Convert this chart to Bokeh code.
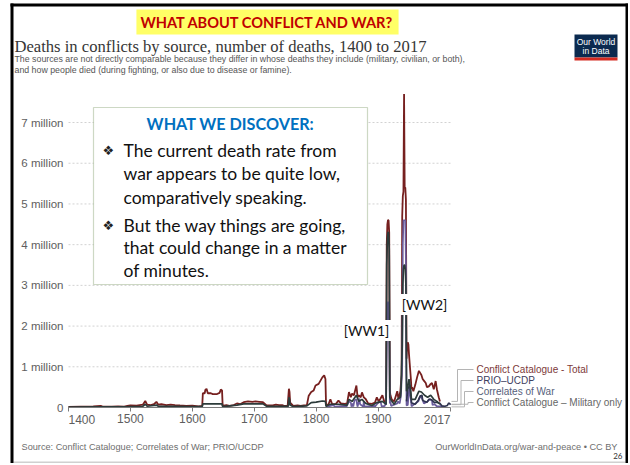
from bokeh.plotting import figure
from bokeh.models import Range1d, Label, BoxAnnotation, Arrow, FixedTicker
from bokeh.embed import file_html
from bokeh.resources import INLINE

# ---------------- data (deaths in thousands) ----------------
series_names = ["Conflict Catalogue - Total", "PRIO\u2013UCDP",
                "Correlates of War", "Conflict Catalogue \u2013 Military only"]

total_years = [1400, 1420, 1440, 1452, 1455, 1470, 1480, 1490, 1495, 1500, 1510, 1515, 1520, 1524, 1527,
               1533, 1538, 1542, 1545, 1550, 1558, 1565, 1572, 1580, 1590, 1600, 1610, 1616,
               1617, 1620, 1621, 1623, 1625, 1630, 1633, 1640, 1644, 1646, 1648, 1649,
               1655, 1660, 1667, 1672, 1677, 1683, 1690, 1697, 1702, 1708, 1714, 1720, 1730, 1735,
               1740, 1745, 1748, 1754, 1756, 1757, 1758, 1763, 1770, 1775, 1780, 1785,
               1788, 1792, 1796, 1799, 1804, 1807, 1810, 1813, 1815, 1816,
               1820, 1823, 1826, 1832, 1836, 1840, 1846, 1850, 1853, 1856, 1858, 1861, 1865, 1867,
               1869, 1872, 1874, 1877, 1880, 1884, 1890, 1895, 1898, 1901, 1904, 1907, 1910, 1913,
               1914, 1915, 1916, 1917, 1918, 1919, 1920, 1922, 1926, 1931, 1933, 1936, 1937, 1938,
               1939, 1940, 1941, 1942, 1943, 1944, 1945,
               1946, 1947, 1948, 1949, 1950, 1951, 1952, 1953, 1954, 1955, 1957, 1960, 1963, 1966,
               1968, 1970, 1972, 1974, 1977, 1979, 1982, 1985, 1987, 1990, 1993, 1995, 1998, 2000]
total_vals = [15, 20, 25, 40, 20, 20, 25, 20, 40, 50, 45, 60, 70, 160, 70,
              60, 80, 140, 70, 80, 60, 70, 60, 50, 40, 45, 30, 40,
              350, 350, 430, 460, 350, 350, 330, 330, 360, 440, 420, 40,
              60, 40, 60, 100, 80, 130, 150, 140, 150, 140, 130, 50, 50, 70,
              60, 60, 40, 40, 460, 380, 120, 40, 50, 40, 50, 60,
              290, 380, 420, 540, 580, 660, 740, 790, 700, 60,
              80, 200, 80, 90, 170, 100, 90, 100, 380, 250, 340, 300, 540, 250,
              300, 250, 370, 250, 210, 100, 90, 120, 250, 150, 220, 300, 150, 150,
              4000, 4500, 4600, 4600, 4300, 400, 300, 200, 150, 400, 200, 400, 600, 800,
              4700, 5200, 5300, 7700, 5400, 5400, 5100,
              1200, 1500, 1600, 1550, 1300, 1100, 900, 700, 450, 500, 400, 550, 740, 900,
              850, 800, 700, 660, 600, 500, 520, 580, 600, 450, 650, 450, 250, 150]

mil_years = [1400, 1450, 1495, 1520, 1524, 1527, 1542, 1545, 1570, 1600, 1616,
             1617, 1648, 1649, 1672, 1683, 1714, 1720, 1755, 1756, 1757, 1758, 1763, 1785,
             1792, 1800, 1810, 1815, 1816, 1823, 1836, 1850, 1853, 1858, 1865, 1869, 1874,
             1880, 1890, 1898, 1907, 1913,
             1914, 1915, 1916, 1917, 1918, 1919, 1920, 1926, 1931, 1936, 1937, 1939, 1940,
             1941, 1942, 1943, 1944, 1945,
             1946, 1948, 1950, 1952, 1954, 1960, 1966, 1970, 1975, 1980, 1985, 1990, 1995, 2000]
mil_vals = [10, 15, 20, 30, 80, 30, 60, 30, 30, 20, 20,
            90, 90, 20, 60, 90, 90, 30, 30, 250, 200, 60, 20, 40,
            120, 130, 160, 150, 30, 80, 80, 60, 200, 150, 300, 150, 200,
            100, 50, 120, 150, 80,
            3500, 4100, 4300, 4300, 3900, 250, 200, 80, 200, 250, 400, 1500, 3000,
            3400, 3500, 3500, 3400, 3000,
            400, 500, 700, 500, 200, 200, 400, 380, 300, 250, 300, 200, 150, 80]

cow_years = [1816, 1823, 1828, 1830, 1848, 1849, 1853, 1856, 1857, 1859, 1860, 1862, 1865, 1866,
             1867, 1870, 1871, 1876, 1877, 1878, 1894, 1895, 1899, 1904, 1906, 1911, 1912, 1913,
             1914, 1915, 1916, 1917, 1918, 1919, 1920, 1921, 1931, 1932, 1935, 1937, 1939, 1940,
             1941, 1942, 1943, 1944, 1945,
             1946, 1948, 1950, 1951, 1952, 1953, 1954, 1965, 1968, 1971, 1974, 1980, 1983, 1987,
             1988, 1991, 1995, 2000, 2003, 2007]
cow_vals = [10, 40, 60, 20, 40, 20, 150, 120, 20, 100, 20, 180, 200, 80,
            20, 220, 80, 20, 150, 20, 40, 20, 100, 150, 20, 40, 100, 60,
            1500, 2300, 2600, 2500, 1800, 100, 150, 40, 100, 150, 100, 300, 1000, 4000,
            4600, 4600, 4600, 4600, 3500,
            50, 60, 400, 500, 300, 200, 30, 150, 280, 220, 100, 150, 200, 180,
            60, 80, 30, 30, 20, 15]

prio_years = [1946, 1947, 1948, 1949, 1950, 1951, 1952, 1953, 1954, 1956, 1960, 1965, 1968, 1971,
              1972, 1975, 1979, 1982, 1985, 1988, 1991, 1994, 1998, 2000, 2003, 2008, 2012, 2014,
              2016, 2017]
prio_vals = [150, 300, 450, 500, 500, 550, 450, 300, 120, 100, 80, 180, 280, 300,
             180, 150, 130, 200, 200, 170, 120, 130, 110, 100, 40, 30, 50, 110,
             90, 70]

x_ticks = [1400, 1500, 1600, 1700, 1800, 1900, 2017]
y_ticks = [0, 1000000, 2000000, 3000000, 4000000, 5000000, 6000000, 7000000]
y_tick_labels = ["0", "1 million", "2 million", "3 million", "4 million",
                 "5 million", "6 million", "7 million"]

# ---------------- layout (pixel <-> data helpers for decorations) ----------------
W, H = 628, 463
XMIN, XMAX = x_ticks[0], x_ticks[-1]
PX_L, PX_R = 68.0, 450.0      # pixel column of XMIN / XMAX
PX_ZERO, PX_PER_M = 407.0, 40.71


def xd(px):
    return XMIN + (px - PX_L) * (XMAX - XMIN) / (PX_R - PX_L)


def yd(py):
    return (PX_ZERO - py) * 1e6 / PX_PER_M


p = figure(width=W, height=H, min_border=0,
           x_range=Range1d(xd(0), xd(W)), y_range=Range1d(yd(H), yd(0)),
           output_backend="svg", toolbar_location=None)
p.outline_line_color = None
p.background_fill_color = "white"
p.border_fill_color = "white"
p.xgrid.visible = False
p.ygrid.visible = False

ax = p.xaxis[0]
ax.fixed_location = 0
ax.bounds = (XMIN, XMAX)
ax.ticker = FixedTicker(ticks=x_ticks)
ax.major_label_overrides = {t: ("" if t in (XMIN, XMAX) else str(t)) for t in x_ticks}
ax.axis_line_color = "#7a7a7a"
ax.major_tick_line_color = "#7a7a7a"
ax.major_tick_out = 4
ax.major_tick_in = 0
ax.minor_tick_line_color = None
ax.major_label_standoff = 2
ax.major_label_text_font = "Liberation Sans"
ax.major_label_text_font_size = "12px"
ax.major_label_text_color = "#5e5e5e"

ay = p.yaxis[0]
ay.fixed_location = XMIN
ay.ticker = FixedTicker(ticks=y_ticks)
ay.major_label_overrides = dict(zip(y_ticks, y_tick_labels))
ay.axis_line_color = None
ay.major_tick_line_color = None
ay.minor_tick_line_color = None
ay.major_tick_out = 0
ay.major_tick_in = 0
ay.major_label_standoff = 5
ay.major_label_text_font = "Liberation Sans"
ay.major_label_text_font_size = "11.5px"
ay.major_label_text_color = "#5e5e5e"

# dotted gridlines limited to the chart's time span
p.segment(x0=[XMIN] * (len(y_ticks) - 1), y0=y_ticks[1:], x1=[XMAX] * (len(y_ticks) - 1), y1=y_ticks[1:],
          line_color="#d2d2d2", line_dash="2 2", line_width=1)

colors = {"total": "#76201f", "prio": "#303450", "cow": "#6a5c9c", "mil": "#2c3b3a"}
k = 1000
p.line(total_years, [v * k for v in total_vals], line_color=colors["total"], line_width=1.8)
p.line(cow_years, [v * k for v in cow_vals], line_color=colors["cow"], line_width=1.7)
p.line(prio_years, [v * k for v in prio_vals], line_color=colors["prio"], line_width=1.7)
p.line(mil_years, [v * k for v in mil_vals], line_color=colors["mil"], line_width=1.7)

LBL = dict(text_baseline="middle")

# clamped end tick labels of the time axis
p.add_layout(Label(x=XMIN, y=yd(419), text=str(XMIN), text_align="left", text_font="Liberation Sans",
                   text_font_size="12px", text_color="#5e5e5e", **LBL))
p.add_layout(Label(x=XMAX, y=yd(419), text=str(XMAX), text_align="right", text_font="Liberation Sans",
                   text_font_size="12px", text_color="#5e5e5e", **LBL))

# legend connectors + labels
last_vals = [total_vals[-1], prio_vals[-1], cow_vals[-1], mil_vals[-1]]
leg_y = [369, 380, 391, 402]
leg_vx = [457, 460.5, 464, 467.5]
leg_colors = ["#7d3a3a", "#3e4060", "#56607a", "#666666"]
for name, lv, ly, vx, lc in zip(series_names, last_vals, leg_y, leg_vx, leg_colors):
    y0 = lv * k
    segs = [(xd(451), y0, xd(vx), y0), (xd(vx), y0, xd(vx), yd(ly)), (xd(vx), yd(ly), xd(473), yd(ly))]
    for (a, b, c, d) in segs:
        p.add_layout(Arrow(end=None, x_start=a, y_start=b, x_end=c, y_end=d,
                           line_color="#b4b4b4", line_width=1))
    p.add_layout(Label(x=xd(476), y=yd(ly), text=name, text_align="left",
                       text_font="Liberation Sans", text_font_size="10px", text_color=lc, **LBL))

# WW labels
for txt, cx, cy in [("[WW1]", 366, 330), ("[WW2]", 424, 304)]:
    p.add_layout(Label(x=xd(cx), y=yd(cy), text=txt, text_align="center",
                       text_font="Lato", text_font_size="14px", text_color="#111111",
                       background_fill_color="white", padding=2, **LBL))

# annotation box
p.add_layout(BoxAnnotation(left=xd(93), right=xd(367), top=yd(107), bottom=yd(284),
                           fill_color="white", fill_alpha=1, line_color="#5b7f3c", line_width=1.2))
p.add_layout(Label(x=xd(230), y=yd(123), text="WHAT WE DISCOVER:", text_align="center",
                   text_font="Lato", text_font_style="bold",
                   text_font_size="16.2px", text_color="#0070C0", **LBL))
box_lines = [("\u2756", "The current death rate from", 150),
             ("", "war appears to be quite low,", 173),
             ("", "comparatively speaking.", 197),
             ("\u2756", "But the way things are going,", 225),
             ("", "that could change in a matter", 247),
             ("", "of minutes.", 270)]
for bullet, txt, cy in box_lines:
    if bullet:
        p.add_layout(Label(x=xd(102), y=yd(cy), text=bullet, text_align="left",
                           text_font="DejaVu Sans", text_font_size="13px", text_color="#222222", **LBL))
    p.add_layout(Label(x=xd(123), y=yd(cy), text=txt, text_align="left",
                       text_font="Lato", text_font_size="17.5px", text_color="#111111", **LBL))

# slide title
p.add_layout(Label(x=xd(267), y=yd(21.5), text="WHAT ABOUT CONFLICT AND WAR?", text_align="center",
                   text_font="Lato", text_font_style="bold",
                   text_font_size="14.6px", text_color="#C00000",
                   background_fill_color="#FFFF66", padding=4, **LBL))

# chart title / subtitle
p.add_layout(Label(x=xd(14), y=yd(46), text="Deaths in conflicts by source, number of deaths, 1400 to 2017",
                   text_align="left", text_font="Liberation Serif",
                   text_font_size="16.6px", text_color="#363636", **LBL))
p.add_layout(Label(x=xd(14), y=yd(58.5),
                   text="The sources are not directly comparable because they differ in whose deaths they include (military, civilian, or both),",
                   text_align="left", text_font="Liberation Sans",
                   text_font_size="8.8px", text_color="#555555", **LBL))
p.add_layout(Label(x=xd(14), y=yd(69.5),
                   text="and how people died (during fighting, or also due to disease or famine).",
                   text_align="left", text_font="Liberation Sans",
                   text_font_size="8.8px", text_color="#555555", **LBL))

# OWID logo
p.add_layout(BoxAnnotation(left=xd(574), right=xd(617), top=yd(34), bottom=yd(57),
                           fill_color="#0b2a4f", fill_alpha=1, line_color=None))
p.add_layout(BoxAnnotation(left=xd(574), right=xd(617), top=yd(57), bottom=yd(60),
                           fill_color="#d42b21", fill_alpha=1, line_color=None))
for txt, cy in [("Our World", 41), ("in Data", 50)]:
    p.add_layout(Label(x=xd(595.5), y=yd(cy), text=txt, text_align="center",
                       text_font="Liberation Sans", text_font_size="8.5px", text_color="white", **LBL))

# footer
p.add_layout(Label(x=xd(21), y=yd(446), text="Source: Conflict Catalogue; Correlates of War; PRIO/UCDP",
                   text_align="left", text_font="Liberation Sans",
                   text_font_size="9.2px", text_color="#6e6e6e", **LBL))
p.add_layout(Label(x=xd(617), y=yd(446), text="OurWorldInData.org/war-and-peace \u2022 CC BY",
                   text_align="right", text_font="Liberation Sans",
                   text_font_size="9.2px", text_color="#6e6e6e", **LBL))
p.add_layout(Label(x=xd(622), y=yd(455), text="26", text_align="right",
                   text_font="Lato", text_font_size="8px", text_color="#333333", **LBL))

# slide frame
p.add_layout(BoxAnnotation(left=xd(13), right=xd(625), top=yd(461), bottom=yd(463),
                           fill_color="#d0d0d0", fill_alpha=1, line_color=None))
p.add_layout(BoxAnnotation(left=xd(10), right=xd(13), top=yd(3), bottom=yd(H),
                           fill_color="black", fill_alpha=1, line_color=None))
p.add_layout(BoxAnnotation(left=xd(625), right=xd(628), top=yd(3), bottom=yd(H),
                           fill_color="black", fill_alpha=1, line_color=None))
p.add_layout(BoxAnnotation(left=xd(10), right=xd(628), top=yd(3), bottom=yd(6),
                           fill_color="black", fill_alpha=1, line_color=None))

open("out.html", "w").write(file_html(p, INLINE))
